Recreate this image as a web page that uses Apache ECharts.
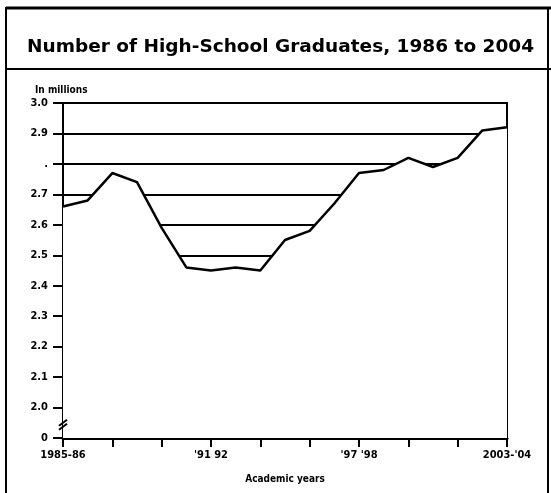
<!DOCTYPE html>
<html>
<head>
<meta charset="utf-8">
<script src="https://cdn.jsdelivr.net/npm/echarts@6/dist/echarts.min.js"></script>
<style>
  html, body { margin: 0; padding: 0; background: #fff; }
  #main { width: 551px; height: 493px; }
</style>
</head>
<body>
<div id="main"></div>
<script>
// academic years, 1985-86 .. 2003-04
const years = [
  "1985-86", "1986-87", "1987-88", "1988-89", "1989-90", "1990-91", "1991-92",
  "1992-93", "1993-94", "1994-95", "1995-96", "1996-97", "1997-98", "1998-99",
  "1999-00", "2000-01", "2001-02", "2002-03", "2003-04"
];
// graduates, in millions
const graduates = [
  2.66, 2.68, 2.77, 2.74, 2.59, 2.46, 2.45, 2.46, 2.45, 2.55,
  2.58, 2.67, 2.77, 2.78, 2.82, 2.79, 2.82, 2.91, 2.92
];
// x labels shown under some ticks
const xLabels = { 0: "1985-86", 6: "'91 92", 12: "'97 '98", 18: "2003-'04" };
// y labels from bottom (1.9 stands for the broken 0) to top
const yLabels = ["0", "2.0", "2.1", "2.2", "2.3", "2.4", "2.5", "2.6", "2.7", ".", "2.9", "3.0"];

const labelFont = "DejaVu Sans Condensed";
const myChart = echarts.init(document.getElementById("main"));

const frame = [
  // outer frame and the rules at the top
  { type: "rect", shape: { x: 6, y: 8, width: 542, height: 490 }, style: { fill: null, stroke: "#000", lineWidth: 2 } },
  { type: "line", shape: { x1: 6, y1: 8, x2: 551, y2: 8 }, style: { stroke: "#000", lineWidth: 3 } },
  { type: "line", shape: { x1: 6, y1: 69, x2: 551, y2: 69 }, style: { stroke: "#000", lineWidth: 2 } }
];

myChart.setOption({
  animation: false,
  backgroundColor: "#fff",
  title: [
    {
      text: "Number of High-School Graduates, 1986 to 2004",
      left: 22,
      top: 33,
      textStyle: { fontFamily: "DejaVu Sans", fontWeight: "bold", fontSize: 18.5, color: "#000" }
    },
    {
      text: "In millions",
      left: 30,
      top: 80,
      textStyle: { fontFamily: labelFont, fontWeight: "bold", fontSize: 10, color: "#000" }
    }
  ],
  grid: {
    left: 63,
    right: 44,
    top: 103,
    bottom: 55,
    show: true,
    borderColor: "#000",
    borderWidth: 2,
    backgroundColor: "transparent"
  },
  xAxis: {
    type: "category",
    data: years,
    boundaryGap: false,
    name: "Academic years",
    nameLocation: "middle",
    nameGap: 36,
    nameTextStyle: { fontFamily: labelFont, fontWeight: "bold", fontSize: 10, color: "#000" },
    axisLine: { lineStyle: { color: "#000", width: 3 } },
    axisTick: { interval: 1, length: 9, lineStyle: { color: "#000", width: 2 } },
    axisLabel: {
      interval: (i) => i in xLabels,
      formatter: (v, i) => xLabels[i] || "",
      margin: 12,
      fontFamily: labelFont,
      fontWeight: "bold",
      fontSize: 11,
      color: "#000"
    },
    splitLine: { show: false }
  },
  yAxis: {
    type: "value",
    min: 1.9,
    max: 3.0,
    interval: 0.1,
    axisLine: { show: true, lineStyle: { color: "#000", width: 2 } },
    axisTick: { show: true, length: 10, lineStyle: { color: "#000", width: 2 } },
    axisLabel: {
      formatter: (v, i) => yLabels[i] ?? "",
      margin: 15,
      fontFamily: labelFont,
      fontWeight: "bold",
      fontSize: 11,
      color: "#000"
    },
    splitLine: { show: true, lineStyle: { color: "#000", width: 2 } }
  },
  series: [
    {
      type: "line",
      data: graduates,
      symbol: "none",
      lineStyle: { color: "#000", width: 2.5 },
      areaStyle: { color: "#fff", opacity: 1 },
      z: 3
    }
  ],
  graphic: frame
});

// axis-break mark on the y axis, placed through the axis scale
const brk = myChart.convertToPixel({ gridIndex: 0 }, [0, 1.95]);
myChart.setOption({
  graphic: frame.concat([
    { type: "line", shape: { x1: brk[0] - 4, y1: brk[1] + 3, x2: brk[0] + 4, y2: brk[1] - 3 }, style: { stroke: "#000", lineWidth: 2 }, z: 10 },
    { type: "line", shape: { x1: brk[0] - 4, y1: brk[1] + 7, x2: brk[0] + 4, y2: brk[1] + 1 }, style: { stroke: "#000", lineWidth: 2 }, z: 10 }
  ])
});
</script>
</body>
</html>
